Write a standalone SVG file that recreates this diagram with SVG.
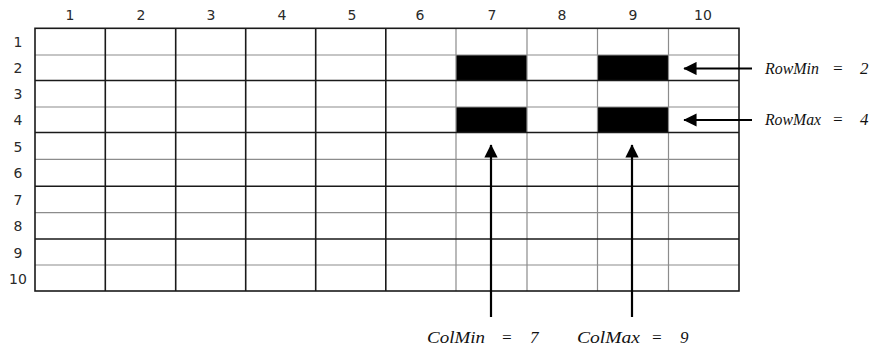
<svg xmlns="http://www.w3.org/2000/svg" width="878" height="351" viewBox="0 0 878 351">
<style>
.bg{fill:#fff}
.blk{stroke:#1a1a1a;stroke-width:1.6;fill:none}
.gry{stroke:#8c8c8c;stroke-width:1.2;fill:none}
.cell{fill:#000}
.num{font-family:"DejaVu Sans",sans-serif;font-size:14px;fill:#2a2a2a;text-anchor:middle}
.lbl{font-family:"Liberation Serif",serif;font-style:italic;font-size:17px;fill:#111}
.arr{stroke:#000;stroke-width:2.2;fill:none}
</style>
<defs>
<marker id="ah" viewBox="0 0 10 10" refX="9.5" refY="5" markerWidth="7.5" markerHeight="6" orient="auto" markerUnits="strokeWidth">
<path d="M0,0 L10,5 L0,10 z" fill="#000"/>
</marker>
</defs>
<rect class="bg" x="0" y="0" width="878" height="351"/>
<g id="grid">
<rect class="cell" x="456" y="55" width="71" height="25.5"/>
<rect class="cell" x="597.5" y="55" width="71" height="25.5"/>
<rect class="cell" x="456" y="107" width="71" height="25.5"/>
<rect class="cell" x="597.5" y="107" width="71" height="25.5"/>
<g class="gry">
<path d="M35 55H739M35 107H739M35 159.3H739M35 212.7H739M35 265H739"/>
<path d="M456 28.3V291M527 28.3V291M597.5 28.3V291M668.5 28.3V291"/>
</g>
<g class="blk">
<path d="M35 80.5H739M35 132.5H739M35 186.3H739M35 239H739"/>
<path d="M105.3 28.3V291M175.7 28.3V291M245.7 28.3V291M315.7 28.3V291M385.8 28.3V291"/>
<rect x="35" y="28.3" width="704" height="262.7"/>
</g>
</g>
<g id="col-headers">
<text class="num" x="70" y="20">1</text>
<text class="num" x="141" y="20">2</text>
<text class="num" x="211" y="20">3</text>
<text class="num" x="282" y="20">4</text>
<text class="num" x="352" y="20">5</text>
<text class="num" x="420" y="20">6</text>
<text class="num" x="492" y="20">7</text>
<text class="num" x="562" y="20">8</text>
<text class="num" x="633" y="20">9</text>
<text class="num" x="703" y="20">10</text>
</g>
<g id="row-headers">
<text class="num" x="18" y="47">1</text>
<text class="num" x="18" y="73">2</text>
<text class="num" x="18" y="99">3</text>
<text class="num" x="18" y="125">4</text>
<text class="num" x="18" y="151.5">5</text>
<text class="num" x="18" y="178">6</text>
<text class="num" x="18" y="204.5">7</text>
<text class="num" x="18" y="231">8</text>
<text class="num" x="18" y="257.5">9</text>
<text class="num" x="18" y="283.5">10</text>
</g>
<g id="connectors">
<line class="arr" x1="752" y1="68.5" x2="684" y2="68.5" marker-end="url(#ah)"/>
<line class="arr" x1="752" y1="120" x2="684" y2="120" marker-end="url(#ah)"/>
<line class="arr" x1="491" y1="317" x2="491" y2="145" marker-end="url(#ah)"/>
<line class="arr" x1="632" y1="317" x2="632" y2="145" marker-end="url(#ah)"/>
</g>
<g id="label-rowmin">
<text class="lbl" x="765" y="74" textLength="54" lengthAdjust="spacingAndGlyphs">RowMin</text>
<text class="lbl" x="832" y="74">=</text>
<text class="lbl" x="860" y="74">2</text>
</g>
<g id="label-rowmax">
<text class="lbl" x="765" y="125" textLength="56" lengthAdjust="spacingAndGlyphs">RowMax</text>
<text class="lbl" x="832" y="125">=</text>
<text class="lbl" x="860" y="125">4</text>
</g>
<g id="label-colmin">
<text class="lbl" x="427" y="343" textLength="58" lengthAdjust="spacingAndGlyphs">ColMin</text>
<text class="lbl" x="501" y="343">=</text>
<text class="lbl" x="530" y="343">7</text>
</g>
<g id="label-colmax">
<text class="lbl" x="577" y="343" textLength="63" lengthAdjust="spacingAndGlyphs">ColMax</text>
<text class="lbl" x="651" y="343">=</text>
<text class="lbl" x="680" y="343">9</text>
</g>
</svg>
